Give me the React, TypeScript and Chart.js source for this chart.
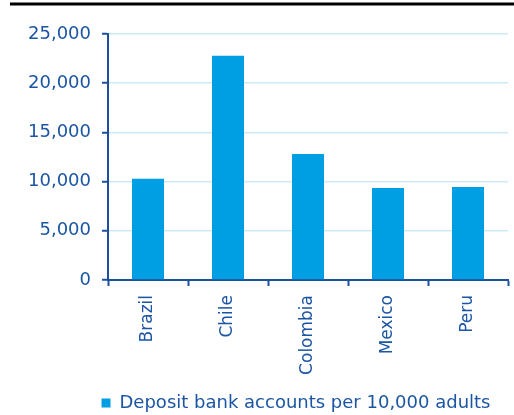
import React, { useEffect, useRef } from "react";
import { Chart, registerables } from "chart.js";

Chart.register(...registerables);

const categories = ["Brazil", "Chile", "Colombia", "Mexico", "Peru"];
const depositAccounts = [10300, 22800, 12800, 9350, 9450];
const seriesLabel = "Deposit bank accounts per 10,000 adults";
const yTicks = [0, 5000, 10000, 15000, 20000, 25000];

const TEXT = "#1B56A4";
const AXIS = "#1C4F9E";
const BAR = "#009FE3";
const GRID = "#CDEAF8";
const FONT = "'DejaVu Sans', sans-serif";

const topRule = {
  id: "topRule",
  afterLayout(chart: any) {
    const lg = chart.legend;
    if (lg) {
      lg.left = 84;
      lg.top += 7;
      lg.bottom += 7;
    }
  },
  afterDraw(chart: any) {
    const ctx = chart.ctx;
    ctx.save();
    ctx.strokeStyle = "#000";
    ctx.lineWidth = 3;
    ctx.beginPath();
    ctx.moveTo(10, 4);
    ctx.lineTo(chart.width, 4);
    ctx.stroke();
    ctx.restore();
  },
};

export default function App() {
  const ref = useRef<HTMLCanvasElement>(null);
  useEffect(() => {
    if (!ref.current) return;
    const chart = new Chart(ref.current, {
      type: "bar",
      data: {
        labels: categories,
        datasets: [
          {
            label: seriesLabel,
            data: depositAccounts,
            backgroundColor: BAR,
            borderWidth: 0,
            barPercentage: 0.5,
            categoryPercentage: 0.8,
          },
        ],
      },
      options: {
        animation: false,
        responsive: false,
        layout: { padding: { left: 20, right: 6, top: 34, bottom: 0 } },
        plugins: {
          tooltip: { enabled: false },
          legend: {
            position: "bottom",
            labels: {
              boxWidth: 9,
              boxHeight: 9,
              padding: 10,
              color: TEXT,
              font: { family: FONT, size: 18 },
            },
          },
        },
        scales: {
          x: {
            afterFit(scale: any) {
              scale.height = 97;
            },
            border: { display: true, color: AXIS, width: 2 },
            grid: {
              offset: true,
              drawOnChartArea: false,
              drawTicks: true,
              tickLength: 6,
              tickColor: AXIS,
              tickWidth: 2,
            },
            ticks: {
              color: TEXT,
              font: { family: FONT, size: 17 },
              minRotation: 90,
              maxRotation: 90,
              padding: 9,
            },
          },
          y: {
            min: 0,
            max: 25000,
            afterFit(scale: any) {
              scale.width = 88;
            },
            afterBuildTicks(scale: any) {
              scale.ticks = yTicks.map((v) => ({ value: v }));
            },
            border: { display: true, color: AXIS, width: 2 },
            grid: {
              color: GRID,
              lineWidth: 1.5,
              drawTicks: true,
              tickLength: 6,
              tickColor: AXIS,
              tickWidth: 2,
            },
            ticks: {
              color: TEXT,
              font: { family: FONT, size: 18 },
              padding: 11,
              callback: (v: any) => Number(v).toLocaleString("en-US"),
            },
          },
        },
      },
      plugins: [topRule],
    });
    return () => chart.destroy();
  }, []);
  return (
    <div style={{ position: "absolute", left: 0, top: 0, width: 514, height: 415, background: "#fff" }}>
      <canvas ref={ref} width={514} height={415} />
    </div>
  );
}
